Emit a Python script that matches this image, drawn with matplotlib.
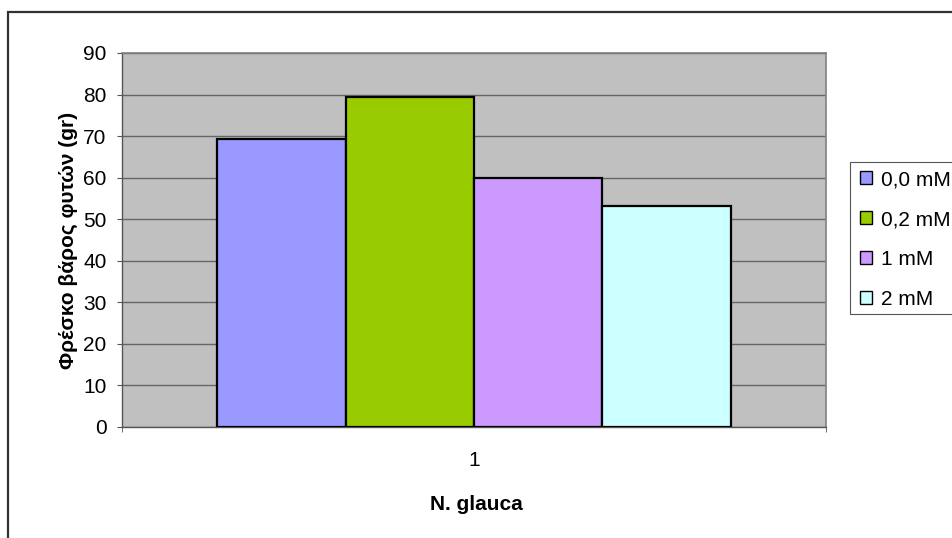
import matplotlib.pyplot as plt
from matplotlib.patches import Rectangle

plt.rcParams['font.family'] = ['Liberation Sans', 'DejaVu Sans']

categories = ['1']
series = ['0,0 mM', '0,2 mM', '1 mM', '2 mM']
values = [69.4, 79.3, 60.0, 53.2]
colors = ['#9999FF', '#99CC00', '#CC99FF', '#CCFFFF']

W, H = 953, 538
FS = 15
fig = plt.figure(figsize=(W / 100, H / 100), dpi=100)

# outer chart frame (left and top edges visible)
fig.patches.append(Rectangle((8.5 / W, -0.1), 1.2, 1 - 12.5 / H + 0.1,
                             transform=fig.transFigure, fill=False,
                             edgecolor='#333333', linewidth=1.6))

ax = fig.add_axes([122 / W, 1 - 427 / H, (826 - 122) / W, (427 - 53) / H])
ax.set_facecolor('#C0C0C0')

bw = 0.729 / 4
for i, (name, val, col) in enumerate(zip(series, values, colors)):
    ax.bar(1 + (i - 1.5) * bw, val, width=bw, color=col, edgecolor='black',
           linewidth=1.6, label=name, zorder=3)

ax.set_xlim(0.5, 1.5)
ax.set_ylim(0, 90)
ax.set_yticks(range(0, 91, 10))
ax.yaxis.grid(True, color='#666666', linewidth=1.0, zorder=1)
ax.set_axisbelow(True)

ax.set_xticks([1])
ax.set_xticklabels(categories, fontsize=FS)
ax.set_xticks([0.5, 1.5], minor=True)
ax.tick_params(axis='x', which='major', length=0, pad=17)
ax.tick_params(axis='x', which='minor', length=3.6, color='#555555')
ax.tick_params(axis='y', length=3.6, color='#555555', labelsize=FS, pad=7.5)

for s in ['left', 'bottom']:
    ax.spines[s].set_color('#555555')
    ax.spines[s].set_linewidth(1.0)
for s in ['top', 'right']:
    ax.spines[s].set_color('#808080')
    ax.spines[s].set_linewidth(1.2)

fig.text(68 / W, 1 - 240 / H, 'Φρέσκο βάρος φυτών (gr)', rotation=90,
         ha='center', va='center', fontsize=FS, fontweight='bold')
fig.text(476 / W, 1 - 510 / H, 'N. glauca', ha='center', va='baseline',
         fontsize=FS, fontweight='bold')

# legend box
fig.patches.append(Rectangle((850 / W, 1 - 314 / H), 0.2, (314 - 162.5) / H,
                             transform=fig.transFigure, facecolor='white',
                             edgecolor='#555555', linewidth=0.8))
leg = fig.legend(loc='upper left', bbox_to_anchor=(853 / W, 1 - 163 / H),
                 frameon=False, fontsize=FS, handlelength=0.58,
                 handleheight=0.58, handletextpad=0.4, labelspacing=1.0,
                 borderpad=0.35, borderaxespad=0)
for h in leg.legend_handles:
    h.set_linewidth(1.0)

fig.savefig('out.png', dpi=100)
